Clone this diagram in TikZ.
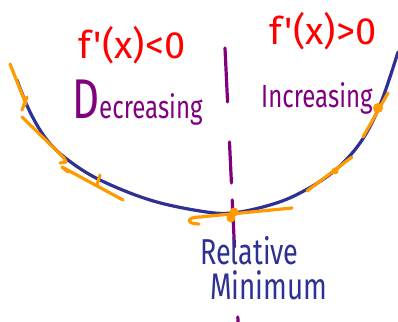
\documentclass[tikz,border=0pt]{standalone}
\usepackage{fontspec}
\newfontfamily\hand{Fira Sans}
\newfontfamily\handn{Fira Sans}[FakeStretch=0.75]
\definecolor{inkblue}{HTML}{2E3192}
\definecolor{inkorange}{HTML}{FF9A00}
\definecolor{inkpurple}{HTML}{800080}
\definecolor{inkred}{HTML}{FF0000}

\begin{document}
\begin{tikzpicture}[x=1pt, y=-1pt,
      curve/.style={draw=inkblue, line width=3.2pt, line cap=round},
      tang/.style={draw=inkorange, line width=3.2pt, line cap=round, line join=round},
      divide/.style={draw=inkpurple, line width=3.2pt, line cap=round},
      dot/.style={circle, fill=inkorange, inner sep=0pt, minimum size=#1},
      dot/.default=9pt,
      deriv/.style={font=\hand\fontsize{38}{40}\selectfont, text=inkred, inner sep=0pt, anchor=base},
      word/.style={font=\handn\fontsize{#1}{#1}\selectfont, inner sep=0pt, anchor=base west}
    ]
    \fill[white] (0,0) rectangle (398,321);
    \useasboundingbox (0,0) rectangle (398,321);
    % dashed divider through the minimum
    \foreach \ya/\yb in {48/102, 142/183, 200/247, 317/330}
      \draw[divide] ({225+0.0476*(\ya-48)},\ya) -- ({225+0.0476*(\yb-48)},\yb);
    % the function
    \draw[curve] plot[smooth, tension=0.6] coordinates {(17,80) (30,112) (47,140) (68,160) (100,180)
      (150,200) (200,211) (232,213) (270,205) (300,193) (333,172) (360,143) (380,105) (398,52)};
    % tangent lines
    \draw[tang] (10,64) -- (26,104);
    \draw[tang] (27,97) -- (22,110);
    \draw[tang] (22,117) -- (64,158) -- (66,162) -- (60,163);
    \draw[tang] (68,172) -- (62,167) -- (123,200);
    \draw[tang] (100,175) -- (97,185);
    \draw[tang] (199,224) .. controls (186,224) and (186,217) .. (200,217) -- (292,208);
    \draw[tang] (307,191) -- (352,157);
    \draw[tang] (363,137) -- (388,93);
    \node[dot] (min) at (234,212) {};
    \node[dot] (minb) at (231,218) {};
    \node[dot=7pt] (rlow) at (335,171) {};
    \node[dot=10pt] (rhigh) at (378,108) {};
    % labels
    \node[deriv] (neg) at (132,58) {f'(x)<0};
    \node[deriv] (pos) at (323,45) {f'(x)>0};
    \node[word=32, text=inkpurple] (dec) at (72,118) {{\fontsize{56}{56}\selectfont D}ecreasing};
    \node[word=32, text=inkpurple] (inc) at (261,107) {Increasing};
    \node[word=36, text=inkblue] (rel) at (200,264) {Relative};
    \node[word=37, text=inkblue] (mini) at (210,299) {Minimum};
  \end{tikzpicture}
\end{document}
